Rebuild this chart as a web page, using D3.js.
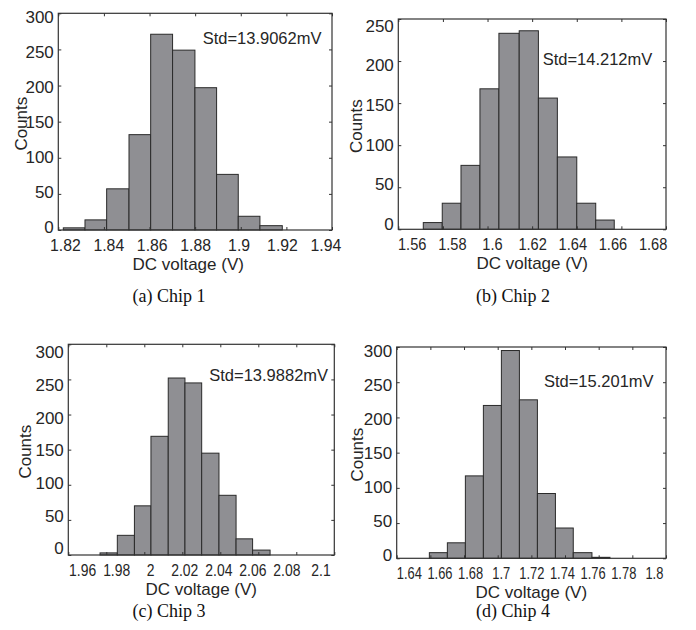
<!DOCTYPE html>
<html>
<head>
<meta charset="utf-8">
<script src="https://cdn.jsdelivr.net/npm/d3@7"></script>
<style>
  body { margin: 0; background: #fff; }
  svg { display: block; }
</style>
</head>
<body>
<script>
// ---------------------------------------------------------------
// data (bin edges in V, counts)
// ---------------------------------------------------------------
var chip1Edges  = [1.8222, 1.8317, 1.8412, 1.8510, 1.8605, 1.8701, 1.8799, 1.8894, 1.8989, 1.9084, 1.9182]
  , chip1Counts = [3, 14, 57, 132, 271, 249, 197, 77, 19, 6]
  , chip1XTicks = [1.82, 1.84, 1.86, 1.88, 1.9, 1.92, 1.94]
  , chip1XLabels = ["1.82", "1.84", "1.86", "1.88", "1.9", "1.92", "1.94"]
  , chip1YTicks = [0, 50, 100, 150, 200, 250, 300]
  , chip1Std    = "Std=13.9062mV"

var chip2Edges  = [1.5712, 1.5797, 1.5881, 1.5966, 1.6051, 1.6142, 1.6228, 1.6313, 1.6400, 1.6485, 1.6568]
  , chip2Counts = [8, 31, 76, 167, 233, 236, 156, 86, 31, 11]
  , chip2XTicks = [1.56, 1.58, 1.6, 1.62, 1.64, 1.66, 1.68]
  , chip2XLabels = ["1.56", "1.58", "1.6", "1.62", "1.64", "1.66", "1.68"]
  , chip2YTicks = [0, 50, 100, 150, 200, 250]
  , chip2Std    = "Std=14.212mV"

var chip3Edges  = [1.9767, 1.9858, 1.9948, 2.0035, 2.0126, 2.0214, 2.0302, 2.0393, 2.0483, 2.0570, 2.0662]
  , chip3Counts = [3, 28, 70, 169, 252, 245, 145, 85, 23, 7]
  , chip3XTicks = [1.96, 1.98, 2, 2.02, 2.04, 2.06, 2.08, 2.1]
  , chip3XLabels = ["1.96", "1.98", "2", "2.02", "2.04", "2.06", "2.08", "2.1"]
  , chip3YTicks = [0, 50, 100, 150, 200, 250, 300]
  , chip3Std    = "Std=13.9882mV"

var chip4Edges  = [1.6594, 1.6701, 1.6808, 1.6915, 1.7022, 1.7129, 1.7236, 1.7343, 1.7449, 1.7560, 1.7667]
  , chip4Counts = [8, 22, 117, 217, 295, 225, 92, 43, 8, 1.4]
  , chip4XTicks = [1.64, 1.66, 1.68, 1.7, 1.72, 1.74, 1.76, 1.78, 1.8]
  , chip4XLabels = ["1.64", "1.66", "1.68", "1.7", "1.72", "1.74", "1.76", "1.78", "1.8"]
  , chip4YTicks = [0, 50, 100, 150, 200, 250, 300]
  , chip4Std    = "Std=15.201mV"

var captions = ["(a) Chip 1", "(b) Chip 2", "(c) Chip 3", "(d) Chip 4"]

// ---------------------------------------------------------------
// layout (pixel boxes, label squeeze, annotation spot in data units)
// ---------------------------------------------------------------
var charts = [
  { edges: chip1Edges, counts: chip1Counts, xTicks: chip1XTicks, xLabels: chip1XLabels, yTicks: chip1YTicks, std: chip1Std,
    xDomain: [1.82, 1.94], yDomain: [0, 300], stdAt: [1.8833, 258],
    box: {left: 58.3, right: 332, top: 13.3, bottom: 230}, kx: 0.952, ky: 0.97, sx: 0.93, ylab: 20.5, cap: [169, 302] },
  { edges: chip2Edges, counts: chip2Counts, xTicks: chip2XTicks, xLabels: chip2XLabels, yTicks: chip2YTicks, std: chip2Std,
    xDomain: [1.56, 1.68], yDomain: [0, 250], stdAt: [1.6247, 195.3],
    box: {left: 398.3, right: 666, top: 19, bottom: 229.3}, kx: 0.90, ky: 0.94, sx: 0.86, ylab: 356, cap: [513, 302] },
  { edges: chip3Edges, counts: chip3Counts, xTicks: chip3XTicks, xLabels: chip3XLabels, yTicks: chip3YTicks, std: chip3Std,
    xDomain: [1.96, 2.1], yDomain: [0, 300], stdAt: [2.0342, 247.7],
    box: {left: 68.3, right: 334.3, top: 344.3, bottom: 555}, kx: 0.896, ky: 0.93, sx: 0.82, ylab: 25, cap: [169, 617] },
  { edges: chip4Edges, counts: chip4Counts, xTicks: chip4XTicks, xLabels: chip4XLabels, yTicks: chip4YTicks, std: chip4Std,
    xDomain: [1.64, 1.8], yDomain: [0, 300], stdAt: [1.7275, 243.1],
    box: {left: 396.7, right: 666, top: 347, bottom: 558.3}, kx: 0.91, ky: 0.964, sx: 0.76, ylab: 356.7, cap: [513, 617] }
]

var SANS = "'Liberation Sans', Arial, Helvetica, sans-serif"
  , SERIF = "'Liberation Serif', 'Times New Roman', serif"
  , INK = "#262626"

var svg = d3.select("body").append("svg")
            .attr("width", 696)
            .attr("height", 630)

charts.forEach(function (c, ci) {
  var b  = c.box
    , x  = d3.scaleLinear().domain(c.xDomain).range([b.left, b.right])
    , y  = d3.scaleLinear().domain(c.yDomain).range([b.bottom, b.top])
    , cx = (b.left + b.right) / 2
    , cy = (b.top + b.bottom) / 2
    , g  = svg.append("g")

  // bars
  g.selectAll("rect.bar").data(c.counts).enter().append("rect")
    .attr("class", "bar")
    .attr("x", function (d, i) { return x(c.edges[i]) })
    .attr("width", function (d, i) { return x(c.edges[i + 1]) - x(c.edges[i]) })
    .attr("y", function (d) { return y(d) })
    .attr("height", function (d) { return y(0) - y(d) })
    .attr("fill", "#8f8f93")
    .attr("stroke", "#2a2a2a")
    .attr("stroke-width", 1)

  // axes box
  g.append("rect")
    .attr("x", b.left).attr("y", b.top)
    .attr("width", b.right - b.left).attr("height", b.bottom - b.top)
    .attr("fill", "none").attr("stroke", "#333").attr("stroke-width", 1.2)

  // bottom axis with labels, inward ticks
  var xb = g.append("g")
    .attr("transform", "translate(0," + b.bottom + ")")
    .call(d3.axisBottom(x).tickValues(c.xTicks)
            .tickFormat(function (d, i) { return c.xLabels[i] })
            .tickSizeInner(-3).tickSizeOuter(0))
  xb.select(".domain").remove()
  // labels are a bit squeezed horizontally in the original figure
  xb.selectAll("text")
    .attr("y", 21).attr("dy", 0)
    .attr("transform", "scale(" + c.sx + ",1)")
    .attr("x", function (d) { return (cx - x(d)) * (1 - c.kx) / c.sx })

  // top axis, ticks only
  var xt = g.append("g")
    .attr("transform", "translate(0," + b.top + ")")
    .call(d3.axisTop(x).tickValues(c.xTicks).tickFormat("").tickSizeInner(-3).tickSizeOuter(0))
  xt.select(".domain").remove()

  // left axis with labels
  var yl = g.append("g")
    .attr("transform", "translate(" + b.left + ",0)")
    .call(d3.axisLeft(y).tickValues(c.yTicks).tickSizeInner(-3).tickSizeOuter(0))
  yl.select(".domain").remove()
  yl.selectAll("text")
    .attr("x", -4.5).attr("dy", "0.36em")
    .attr("y", function (d) { return (cy - y(d)) * (1 - c.ky) })

  // right axis, ticks only
  var yr = g.append("g")
    .attr("transform", "translate(" + b.right + ",0)")
    .call(d3.axisRight(y).tickValues(c.yTicks).tickFormat("").tickSizeInner(-3).tickSizeOuter(0))
  yr.select(".domain").remove()

  g.selectAll(".tick line").attr("stroke", "#333")
  g.selectAll(".tick text").attr("fill", INK)
  ;[xb, yl].forEach(function (a) { a.attr("font-size", 17).attr("font-family", SANS) })

  // axis titles
  g.append("text")
    .attr("x", cx - (ci == 0 ? 7 : 0)).attr("y", b.bottom + 39.5)
    .attr("text-anchor", "middle")
    .attr("font-family", SANS).attr("font-size", 17).attr("fill", INK)
    .text("DC voltage (V)")

  g.append("text")
    .attr("transform", "translate(" + c.ylab + "," + (cy + 2) + ") rotate(-90)")
    .attr("text-anchor", "middle").attr("dy", "0.36em")
    .attr("font-family", SANS).attr("font-size", 17).attr("fill", INK)
    .text("Counts")

  // std annotation
  g.append("text")
    .attr("x", x(c.stdAt[0])).attr("y", y(c.stdAt[1]))
    .attr("font-family", SANS).attr("font-size", 16.5).attr("fill", INK)
    .text(c.std)

  // caption
  svg.append("text")
    .attr("x", c.cap[0]).attr("y", c.cap[1])
    .attr("text-anchor", "middle")
    .attr("font-family", SERIF).attr("font-size", 18).attr("fill", "#111")
    .text(captions[ci])
})
</script>
</body>
</html>
